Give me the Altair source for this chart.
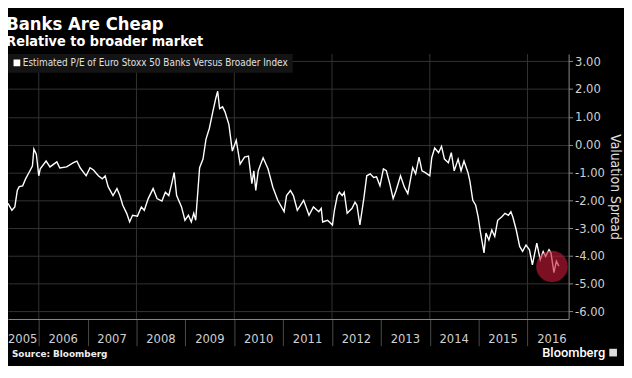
import altair as alt
import pandas as pd
from datetime import datetime

# ---- data (decimal year, valuation spread) ----
t_years = [
    2005.37, 2005.45, 2005.51, 2005.56, 2005.60, 2005.67, 2005.73, 2005.80, 2005.87, 2005.90,
    2005.95, 2006.00, 2006.03, 2006.15, 2006.23, 2006.37, 2006.43, 2006.57, 2006.71, 2006.78,
    2006.85, 2006.97, 2007.05, 2007.12, 2007.22, 2007.30, 2007.36, 2007.42, 2007.52, 2007.60,
    2007.66, 2007.72, 2007.80, 2007.86, 2007.92, 2008.02, 2008.10, 2008.16, 2008.24, 2008.34,
    2008.42, 2008.52, 2008.59, 2008.66, 2008.72, 2008.77, 2008.82, 2008.92, 2008.99, 2009.06,
    2009.12, 2009.17, 2009.21, 2009.29, 2009.36, 2009.42, 2009.49, 2009.56, 2009.62, 2009.66,
    2009.70, 2009.76, 2009.81, 2009.89, 2009.96, 2010.04, 2010.12, 2010.21, 2010.29, 2010.36,
    2010.40, 2010.44, 2010.49, 2010.59, 2010.69, 2010.79, 2010.89, 2011.02, 2011.07, 2011.15,
    2011.21, 2011.29, 2011.42, 2011.53, 2011.62, 2011.73, 2011.78, 2011.81, 2011.91, 2012.01,
    2012.05, 2012.11, 2012.15, 2012.21, 2012.25, 2012.31, 2012.41, 2012.47, 2012.51, 2012.57,
    2012.65, 2012.71, 2012.78, 2012.85, 2012.91, 2012.98, 2013.05, 2013.11, 2013.18, 2013.25,
    2013.31, 2013.40, 2013.48, 2013.55, 2013.65, 2013.71, 2013.78, 2013.84, 2013.90, 2014.00,
    2014.04, 2014.10, 2014.18, 2014.24, 2014.30, 2014.38, 2014.44, 2014.50, 2014.58, 2014.64,
    2014.70, 2014.78, 2014.82, 2014.88, 2014.94, 2014.99, 2015.04, 2015.11, 2015.15, 2015.21,
    2015.27, 2015.33, 2015.39, 2015.47, 2015.54, 2015.61, 2015.66, 2015.70, 2015.77, 2015.84,
    2015.90, 2015.97, 2016.04, 2016.10, 2016.19, 2016.26, 2016.32, 2016.37, 2016.44, 2016.48,
    2016.54, 2016.59, 2016.64,
]
spread = [
    -2.11, -2.36, -2.24, -1.65, -1.51, -1.48, -1.23, -1.00, -0.77, -0.16,
    -0.34, -1.12, -0.87, -0.59, -0.80, -0.62, -0.84, -0.80, -0.65, -0.59,
    -0.84, -1.12, -0.83, -0.91, -1.12, -1.23, -1.12, -1.51, -1.83, -1.58,
    -1.83, -2.18, -2.47, -2.78, -2.54, -2.57, -2.24, -2.36, -1.94, -1.58,
    -1.94, -2.03, -1.71, -1.83, -1.40, -1.00, -1.83, -2.24, -2.72, -2.54,
    -2.78, -2.47, -2.72, -0.83, -0.52, 0.19, 0.59, 1.18, 1.66, 1.92,
    1.30, 1.36, 1.18, 0.72, -0.23, 0.16, -0.70, -0.45, -0.41, -1.40,
    -0.94, -1.65, -0.94, -0.47, -0.87, -1.53, -2.00, -2.41, -1.83, -1.65,
    -1.83, -2.36, -2.00, -2.54, -2.24, -2.41, -2.29, -2.78, -2.72, -2.89,
    -2.36, -1.83, -1.71, -1.83, -1.71, -2.47, -2.29, -2.07, -2.18, -2.89,
    -1.94, -1.12, -1.05, -1.18, -1.16, -1.48, -0.87, -0.94, -1.40, -1.94,
    -1.65, -1.12, -1.53, -1.76, -0.83, -1.05, -0.45, -0.94, -1.00, -1.12,
    -0.47, -0.12, -0.29, -0.06, -0.52, -0.65, -0.29, -0.94, -0.52, -0.94,
    -0.59, -1.00, -1.30, -2.00, -2.18, -2.60, -3.18, -3.89, -3.18, -3.43,
    -3.07, -3.30, -2.72, -2.60, -2.47, -2.54, -2.41, -2.60, -3.07, -3.66,
    -3.84, -3.61, -3.78, -4.32, -3.54, -4.14, -3.84, -4.02, -3.78, -3.90,
    -4.60, -4.19, -4.37,
]
series_name = "Estimated P/E of Euro Stoxx 50 Banks Versus Broader Index"

y_ticks = [-6, -5, -4, -3, -2, -1, 0, 1, 2, 3]
tick_years = list(range(2006, 2017))
grid_years = [2006, 2008, 2010, 2012, 2014, 2016]
year_labels = [str(y) for y in range(2005, 2017)]
year_label_pos = [2005.67] + [y + 0.5 for y in range(2006, 2017)]

highlight_t = [2016.50]
highlight_v = [-4.38]


def dec_to_date(y):
    yr = int(y)
    a = datetime(yr, 1, 1)
    b = datetime(yr + 1, 1, 1)
    return a + (b - a) * (y - yr)


df = pd.DataFrame({"date": [dec_to_date(t) for t in t_years], "value": spread, "series": series_name})
grid_df = pd.DataFrame({"date": [datetime(y, 1, 1) for y in grid_years]})
lab_df = pd.DataFrame({"date": [dec_to_date(p) for p in year_label_pos], "label": year_labels})
hl_df = pd.DataFrame({"date": [dec_to_date(t) for t in highlight_t], "value": highlight_v})
foot_df = pd.DataFrame({"a": [0]})

NARROW = "Liberation Sans Narrow, DejaVu Sans Condensed, sans-serif"
BOLD = "DejaVu Sans, sans-serif"
COND = "DejaVu Sans Condensed, DejaVu Sans, sans-serif"
GRID = "#333333"

x_dom = [dec_to_date(2005.37).isoformat(), dec_to_date(2016.84).isoformat()]
x_scale = alt.Scale(domain=x_dom)
y_scale = alt.Scale(domain=[-6.27, 3.26], nice=False, zero=False)

x_axis = alt.Axis(
    values=[alt.DateTime(year=y, month=1, date=1) for y in tick_years],
    labels=False, tickSize=27, tickColor="#4a4a4a", tickWidth=1,
    domainColor="#8a8a8a", grid=False, title=None,
)
y_axis = alt.Axis(
    orient="right", values=y_ticks, labelOverlap=False,
    labelExpr="replace(format(datum.value, '.2f'), '\u2212', '-')",
    grid=True, gridColor=GRID, domainColor="#8a8a8a", tickColor="#8a8a8a",
    tickSize=4, labelPadding=2, labelColor="#d0d0d0", labelFont=NARROW, labelFontSize=13,
    title="Valuation Spread", titleColor="#e0e0e0", titleFont=NARROW, titleFontSize=14,
    titleFontWeight="normal", titlePadding=3,
)

X = alt.X("date:T", scale=x_scale, axis=x_axis)
Y = alt.Y("value:Q", scale=y_scale, axis=y_axis)

vgrid = alt.Chart(grid_df).mark_rule(color=GRID, strokeWidth=1).encode(x=X)

line = alt.Chart(df).mark_line(strokeWidth=1.4).encode(
    x=X,
    y=Y,
    color=alt.Color(
        "series:N",
        scale=alt.Scale(range=["#ffffff"]),
        legend=alt.Legend(
            orient="top-left", title=None, fillColor="#141414", padding=4, offset=0,
            symbolType="square", symbolSize=28, symbolFillColor="#ffffff",
            symbolStrokeColor="#ffffff", labelColor="#e0e0e0", labelFont=NARROW,
            labelFontSize=10, labelOffset=1, labelLimit=500,
        ),
    ),
)

circle = alt.Chart(hl_df).mark_circle(size=1018, color="#c81a38", opacity=0.62).encode(
    x=X, y=Y,
)

labels = alt.Chart(lab_df).mark_text(
    color="#d0d0d0", font=NARROW, fontSize=13, baseline="middle", align="center"
).encode(
    x=X,
    y=alt.value(288.5),
    text="label:N",
)

source = alt.Chart(foot_df).mark_text(
    text="Source: Bloomberg", color="#eeeeee", font=BOLD, fontSize=9, fontWeight="bold",
    align="left", baseline="alphabetic",
).encode(x=alt.value(4), y=alt.value(306.5))

brand = alt.Chart(foot_df).mark_text(
    text="Bloomberg", color="#ffffff", font="Roboto, sans-serif", fontSize=13, fontWeight=500,
    align="right", baseline="alphabetic",
).encode(x=alt.value(604), y=alt.value(306))

icon = alt.Chart(foot_df).mark_square(size=60, color="#dddddd", opacity=1).encode(
    x=alt.value(612), y=alt.value(302)
)

chart = alt.layer(vgrid, line, circle, labels, source, brand, icon).properties(
    width=567,
    height=268,
    title=alt.TitleParams(
        text="Banks Are Cheap", subtitle="Relative to broader market", anchor="start",
        font=COND, fontSize=18.5, fontWeight="bold", color="#ffffff",
        subtitleFont=COND, subtitleFontSize=14.5, subtitleFontWeight="bold",
        subtitleColor="#ffffff", offset=5, subtitlePadding=2, dx=1,
    ),
    autosize=alt.AutoSizeParams(type="none"),
    padding={"left": 0, "top": 44.5, "right": 56, "bottom": 45},
    background="#000000",
).configure_view(stroke=None)

chart.save("out.html", embed_options={"renderer": "svg", "actions": False})
